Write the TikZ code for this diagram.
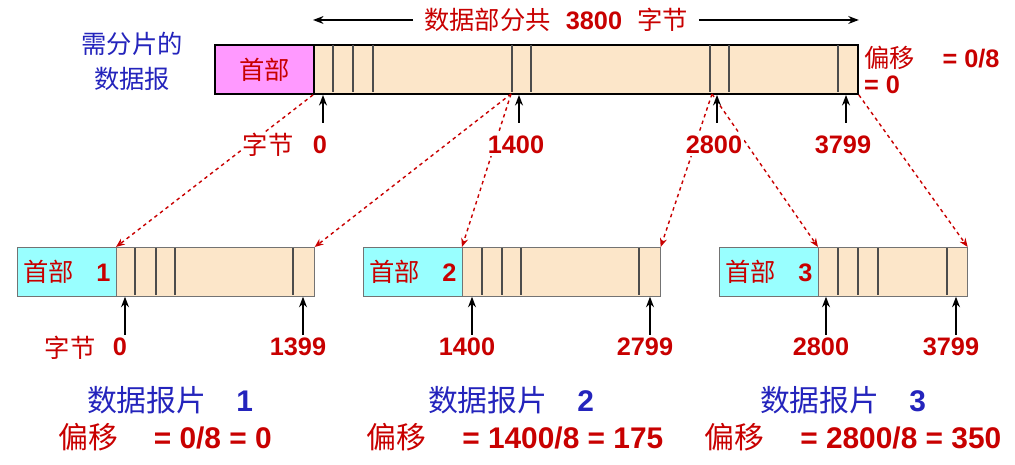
\documentclass[tikz,border=0pt]{standalone}
\usepackage{fontspec}
\setmainfont{Liberation Sans}
\newfontfamily\cjk{Noto Sans CJK SC}
\usetikzlibrary{arrows.meta}
\definecolor{hdrpink}{HTML}{FF99FF}
\definecolor{hdrcyan}{HTML}{99FFFF}
\definecolor{datfill}{HTML}{FCE6C9}
\definecolor{txtred}{HTML}{C80000}
\definecolor{txtblue}{HTML}{2424BC}
\newcommand{\zhtxt}[1]{{\cjk\mdseries #1}}
\tikzset{
  hdr/.style={draw, anchor=north west, inner sep=0pt, minimum width=1.98cm, minimum height=0.98cm,
    text=txtred, font=\fontsize{14.4}{16}\selectfont\bfseries},
  dat/.style={draw, fill=datfill, anchor=north west, inner sep=0pt, minimum height=0.98cm},
  sep/.style={line width=0.6pt, black!70},
  cut/.style={txtred, line width=0.8pt, dash pattern=on 2pt off 2pt, -{Stealth[length=5pt,width=4pt]}},
  up/.style={line width=1pt, -{Stealth[length=6pt,width=4.5pt]}},
  lab/.style={text=txtred, fill=white, inner sep=1pt, font=\fontsize{14.4}{16}\selectfont\bfseries},
  big/.style={inner sep=1pt, font=\fontsize{17}{20}\selectfont\bfseries}
}
\begin{document}
\begin{tikzpicture}[x=0.02cm,y=-0.02cm]
    \useasboundingbox (0,0) rectangle (1015,465);

    % the datagram to be cut
    \node[hdr, fill=hdrpink, line width=1.1pt] (h0) at (214,44) {\zhtxt{首部}};
    \node[dat, line width=1.1pt, minimum width=10.88cm] (d0) at (313,44) {};
    \foreach \d in {333,353,373,512,531,710,729,838}
        \draw[sep] (\d,45) -- (\d,92);

    % the three fragments
    \node[hdr, fill=hdrcyan, draw=black!55] (h1) at (17,247) {\zhtxt{首部}\hspace{0.9em}1};
    \node[dat, draw=black!55, minimum width=3.96cm] (f1) at (116,247) {};
    \node[hdr, fill=hdrcyan, draw=black!55] (h2) at (363,247) {\zhtxt{首部}\hspace{0.9em}2};
    \node[dat, draw=black!55, minimum width=3.96cm] (f2) at (462,247) {};
    \node[hdr, fill=hdrcyan, draw=black!55] (h3) at (719,247) {\zhtxt{首部}\hspace{0.9em}3};
    \node[dat, draw=black!55, minimum width=2.98cm] (f3) at (818,247) {};
    \foreach \d in {135,156,175,293,482,502,521,639,838,858,878,947}
        \draw[sep] (\d,248) -- (\d,295);

    % where each fragment comes from
    \coordinate (c1400) at (511,94);
    \coordinate (c2800) at (712,94);
    \draw[cut] (d0.south west) -- (f1.north west);
    \draw[cut] (c1400) -- (f1.north east);
    \draw[cut] (c1400) -- (f2.north west);
    \draw[cut] (c2800) -- (f2.north east);
    \draw[cut] (c2800) -- (f3.north west);
    \draw[cut] (d0.south east) -- (f3.north east);

    % byte numbers
    \node[lab] (tbyte) at (268,145) {\zhtxt{字节}};
    \foreach \x/\lbl in {323/0, 519/1400, 717/2800, 846/3799}{
        \node[lab] (t\lbl) at (\x-3,145) {\lbl};
        \coordinate (ta\lbl) at (\x,123);
        \draw[up] (ta\lbl) -- (ta\lbl |- d0.south);
    }
    \node[lab] (bbyte) at (70,348) {\zhtxt{字节}};
    \foreach \x/\lbl/\f in {125/0/f1, 303/1399/f1, 472/1400/f2, 650/2799/f2, 826/2800/f3, 956/3799/f3}{
        \node[lab] (b\lbl) at (\x-5,347) {\lbl};
        \coordinate (ba\lbl) at (\x,335);
        \draw[up] (ba\lbl) -- (ba\lbl |- \f.south);
    }

    % texts round the datagram
    \node[lab, text=txtblue, align=center, font=\fontsize{14.4}{20}\selectfont] (need) at (132,61)
        {\zhtxt{需分片的}\\\zhtxt{数据报}};
    \node[lab, inner xsep=6pt] (total) at (556,20) {\zhtxt{数据部分共}\hspace{0.6em}3800\hspace{0.6em}\zhtxt{字节}};
    \draw[up, line width=0.8pt] (total.west) -- (total.west -| d0.west);
    \draw[up, line width=0.8pt] (total.east) -- (total.east -| d0.east);
    \node[lab, anchor=west, align=left, font=\fontsize{14.4}{15}\selectfont\bfseries] (off0) at (862,70)
        {\zhtxt{偏移}\hspace{1.1em}= 0/8\\= 0};

    % fragment names and offsets
    \node[big, text=txtblue] (name1) at (170,400) {\zhtxt{数据报片}\hspace{1em}1};
    \node[big, text=txtred] (off1) at (165,437) {\zhtxt{偏移}\hspace{1.2em}= 0/8 = 0};
    \node[big, text=txtblue] (name2) at (511,400) {\zhtxt{数据报片}\hspace{1em}2};
    \node[big, text=txtred] (off2) at (515,437) {\zhtxt{偏移}\hspace{1.2em}= 1400/8 = 175};
    \node[big, text=txtblue] (name3) at (843,400) {\zhtxt{数据报片}\hspace{1em}3};
    \node[big, text=txtred] (off3) at (853,437) {\zhtxt{偏移}\hspace{1.2em}= 2800/8 = 350};

\end{tikzpicture}
\end{document}
